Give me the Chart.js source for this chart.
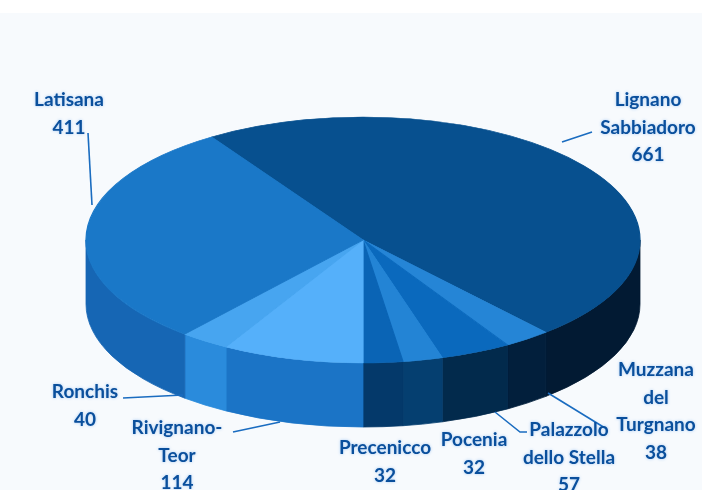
<!DOCTYPE html>
<html>
<head>
<meta charset="utf-8">
<script src="https://cdn.jsdelivr.net/npm/chart.js@4.4.1/dist/chart.umd.min.js"></script>
<style>
  html, body { margin: 0; padding: 0; background: #fff; }
  #wrap { position: relative; width: 702px; height: 490px; background: linear-gradient(#fff 0 13px, #f7fafd 13px); }
</style>
</head>
<body>
<div id="wrap"><canvas id="chart"></canvas></div>
<script>
/* Comuni — 3D pie (top faces via Chart.js arcs, walls via plugin) */
const labels = ['Lignano Sabbiadoro', 'Muzzana del Turgnano', 'Palazzolo dello Stella', 'Pocenia',
  'Precenicco', 'Rivignano-Teor', 'Ronchis', 'Latisana'];
const values = [661, 38, 57, 32, 32, 114, 40, 411];
const labelLines = [['Lignano', 'Sabbiadoro'], ['Muzzana', 'del', 'Turgnano'], ['Palazzolo', 'dello Stella'],
  ['Pocenia'], ['Precenicco'], ['Rivignano-', 'Teor'], ['Ronchis'], ['Latisana']];

const topColors  = ['#07508f', '#2585d6', '#0a69bd', '#2384d5', '#0a64b5', '#55b0fa', '#47a5f0', '#1a78c8'];
const sideColors = ['#021a33', '#021f3c', '#022a4c', '#053f70', '#04396a', '#1b74c6', '#2a8bdc', '#1666b4'];

// layout of the flattened pie and its labels (pixels)
const CX = 363, CY = 240, RX = 277, RY = 123, DEPTH = 64;
const labelPos = [[648, 100], [656, 370], [569, 430], [474, 440], [385, 448], [177, 428], [85, 392], [69, 100]];
const leaders = [
  [[592, 132], [562, 142]],
  [[605, 428], [548, 393]],
  [[527, 432], [520, 432], [495, 412]],
  null,
  null,
  [[233, 432], [280, 422]],
  [[123, 398], [183, 395]],
  [[88, 133], [92, 205]],
];
const LINE_H = 27.5;

// first slices cover clockwise up to the bottom (90 deg) where Rivignano-Teor begins
const total = values.reduce((a, b) => a + b, 0);
const rotation = 180 - 360 * values.slice(0, 5).reduce((a, b) => a + b, 0) / total;

function frontSpans(s, e) {
  const out = [];
  for (let k = -1; k <= 1; k++) {
    const lo = Math.max(s, 2 * Math.PI * k), hi = Math.min(e, Math.PI + 2 * Math.PI * k);
    if (hi > lo) out.push([lo, hi]);
  }
  return out;
}

const pie3d = {
  id: 'pie3d',
  beforeDatasetsDraw(chart) {
    const ctx = chart.ctx;
    const arcs = chart.getDatasetMeta(0).data;
    arcs.forEach((arc, i) => {
      frontSpans(arc.startAngle, arc.endAngle).forEach(([a1, a2]) => {
        ctx.beginPath();
        ctx.ellipse(CX, CY, RX, RY, 0, a1, a2, false);
        ctx.lineTo(CX + RX * Math.cos(a2), CY + DEPTH + RY * Math.sin(a2));
        ctx.ellipse(CX, CY + DEPTH, RX, RY, 0, a2, a1, true);
        ctx.closePath();
        ctx.fillStyle = sideColors[i];
        ctx.strokeStyle = sideColors[i];
        ctx.lineWidth = 0.8;
        ctx.fill();
        ctx.stroke();
      });
    });
    const a0 = arcs[0];
    ctx.save();
    ctx.translate(CX, CY);
    ctx.scale(RX / a0.outerRadius, RY / a0.outerRadius);
    ctx.translate(-a0.x, -a0.y);
  },
  afterDatasetsDraw(chart) {
    const ctx = chart.ctx;
    ctx.restore();
    ctx.save();
    ctx.strokeStyle = '#1a6cc0';
    ctx.lineWidth = 1.6;
    leaders.forEach(pts => {
      if (!pts) return;
      ctx.beginPath();
      pts.forEach(([x, y], j) => j ? ctx.lineTo(x, y) : ctx.moveTo(x, y));
      ctx.stroke();
    });
    ctx.font = 'bold 19px Lato, "Open Sans", sans-serif';
    ctx.textAlign = 'center';
    ctx.textBaseline = 'middle';
    ctx.fillStyle = '#0a4f9c';
    ctx.shadowColor = 'rgba(60,140,230,0.45)';
    ctx.shadowBlur = 3;
    labelLines.forEach((lines, i) => {
      const [x, y] = labelPos[i];
      lines.concat(String(values[i])).forEach((t, j) => ctx.fillText(t, x, y + j * LINE_H));
    });
    ctx.restore();
  }
};

new Chart(document.getElementById('chart'), {
  type: 'pie',
  data: {
    labels,
    datasets: [{
      data: values,
      backgroundColor: topColors,
      borderColor: topColors,
      borderWidth: 1,
    }]
  },
  options: {
    responsive: true, maintainAspectRatio: false, animation: false,
    rotation,
    layout: { padding: 20 },
    plugins: { legend: { display: false }, tooltip: { enabled: false } },
  },
  plugins: [pie3d],
});
</script>
</body>
</html>
